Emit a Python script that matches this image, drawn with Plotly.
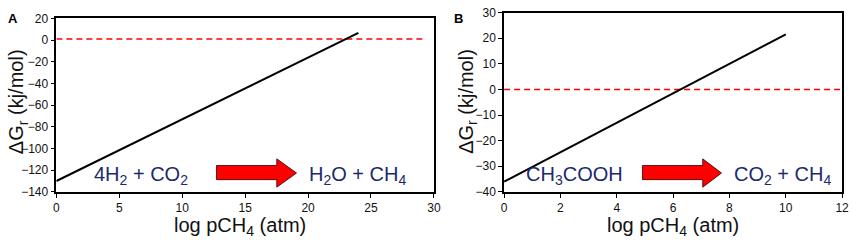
import plotly.graph_objects as go

W, H = 857, 247

# Data
a_x = [0, 24]
a_y = [-130, 6.5]
a_ref_x = [0, 29.3]
a_ref_y = [1, 1]

b_x = [0, 10]
b_y = [-36, 21.5]
b_ref_x = [0, 12]
b_ref_y = [0, 0]

a_xticks = [0, 5, 10, 15, 20, 25, 30]
a_yticks = [-140, -120, -100, -80, -60, -40, -20, 0, 20]
b_xticks = [0, 2, 4, 6, 8, 10, 12]
b_yticks = [-40, -30, -20, -10, 0, 10, 20, 30]

NAVY = "#1b2a6b"
FONT = "Liberation Sans, Arial, sans-serif"

def px(x):
    return x / W

def py(y):
    return 1 - y / H

fig = go.Figure()

fig.add_trace(go.Scatter(x=a_ref_x, y=a_ref_y, mode="lines", xaxis="x", yaxis="y",
                         line=dict(color="#ff0000", width=1.5, dash="6px,4px"), showlegend=False))
fig.add_trace(go.Scatter(x=a_x, y=a_y, mode="lines", xaxis="x", yaxis="y",
                         line=dict(color="black", width=2), showlegend=False))
fig.add_trace(go.Scatter(x=b_ref_x, y=b_ref_y, mode="lines", xaxis="x2", yaxis="y2",
                         line=dict(color="#ff0000", width=1.5, dash="6px,4px"), showlegend=False))
fig.add_trace(go.Scatter(x=b_x, y=b_y, mode="lines", xaxis="x2", yaxis="y2",
                         line=dict(color="black", width=2), showlegend=False))

axis_common = dict(showgrid=False, zeroline=False, showline=True, linecolor="black",
                   linewidth=1.5, mirror=True, ticks="outside", ticklen=4, tickwidth=1,
                   tickcolor="black", tickfont=dict(family=FONT, size=12, color="#111"))

fig.update_layout(
    width=W, height=H, margin=dict(l=0, r=0, t=0, b=0, pad=0), autosize=False,
    paper_bgcolor="white", plot_bgcolor="white",
    xaxis=dict(domain=[px(54), px(436)], range=[0, 30], tickvals=a_xticks, anchor="y", **axis_common),
    yaxis=dict(domain=[py(196), py(12)], range=[-140, 20], tickvals=a_yticks, anchor="x", **axis_common),
    xaxis2=dict(domain=[px(507), px(849)], range=[0, 12], tickvals=b_xticks, anchor="y2", **axis_common),
    yaxis2=dict(domain=[py(196), py(6)], range=[-40, 30], tickvals=b_yticks, anchor="x2", **axis_common),
)

def note(x, y, text, size, color="#111", angle=0):
    return dict(x=px(x), y=py(y), xref="paper", yref="paper", showarrow=False,
                xanchor="center", yanchor="middle", textangle=angle, text=text,
                font=dict(family=FONT, size=size, color=color))

ann = []
ann.append(note(240, 233, "log pCH<sub>4</sub> (atm)", 20))
ann.append(note(678, 233, "log pCH<sub>4</sub> (atm)", 20))
ann.append(note(15, 100, "ΔG<sub>r</sub> (kj/mol)", 20, angle=-90))
ann.append(note(470, 100, "ΔG<sub>r</sub> (kj/mol)", 20, angle=-90))
ann.append(note(10, 12, "<b>A</b>", 13, "black"))
ann.append(note(461, 12, "<b>B</b>", 13, "black"))
rx = [(140, "4H<sub>2</sub> + CO<sub>2</sub>"), (359, "H<sub>2</sub>O + CH<sub>4</sub>"),
      (578, "CH<sub>3</sub>COOH"), (789, "CO<sub>2</sub> + CH<sub>4</sub>")]
for x, t in rx:
    ann.append(note(x, 179, t, 20, NAVY))
fig.update_layout(annotations=ann)

# block arrows (decorations)
def arrow(x0, x1, xh, ytip, yht, yhb, yst, ysb):
    pts = [(x0, yst), (xh, yst), (xh, yht), (x1, ytip), (xh, yhb), (xh, ysb), (x0, ysb)]
    path = "M " + " L ".join(f"{px(a):.5f},{py(b):.5f}" for a, b in pts) + " Z"
    return dict(type="path", path=path, xref="paper", yref="paper",
                fillcolor="#ff0000", line=dict(color="#330000", width=0.8))

fig.update_layout(shapes=[arrow(216, 297, 277, 176, 161, 191, 168, 183),
                          arrow(647, 727, 708, 176, 161, 191, 168, 183)])

fig.write_html("out.html", config={"displayModeBar": False},
               post_script="document.body.style.margin='0';document.body.style.overflow='hidden';")
